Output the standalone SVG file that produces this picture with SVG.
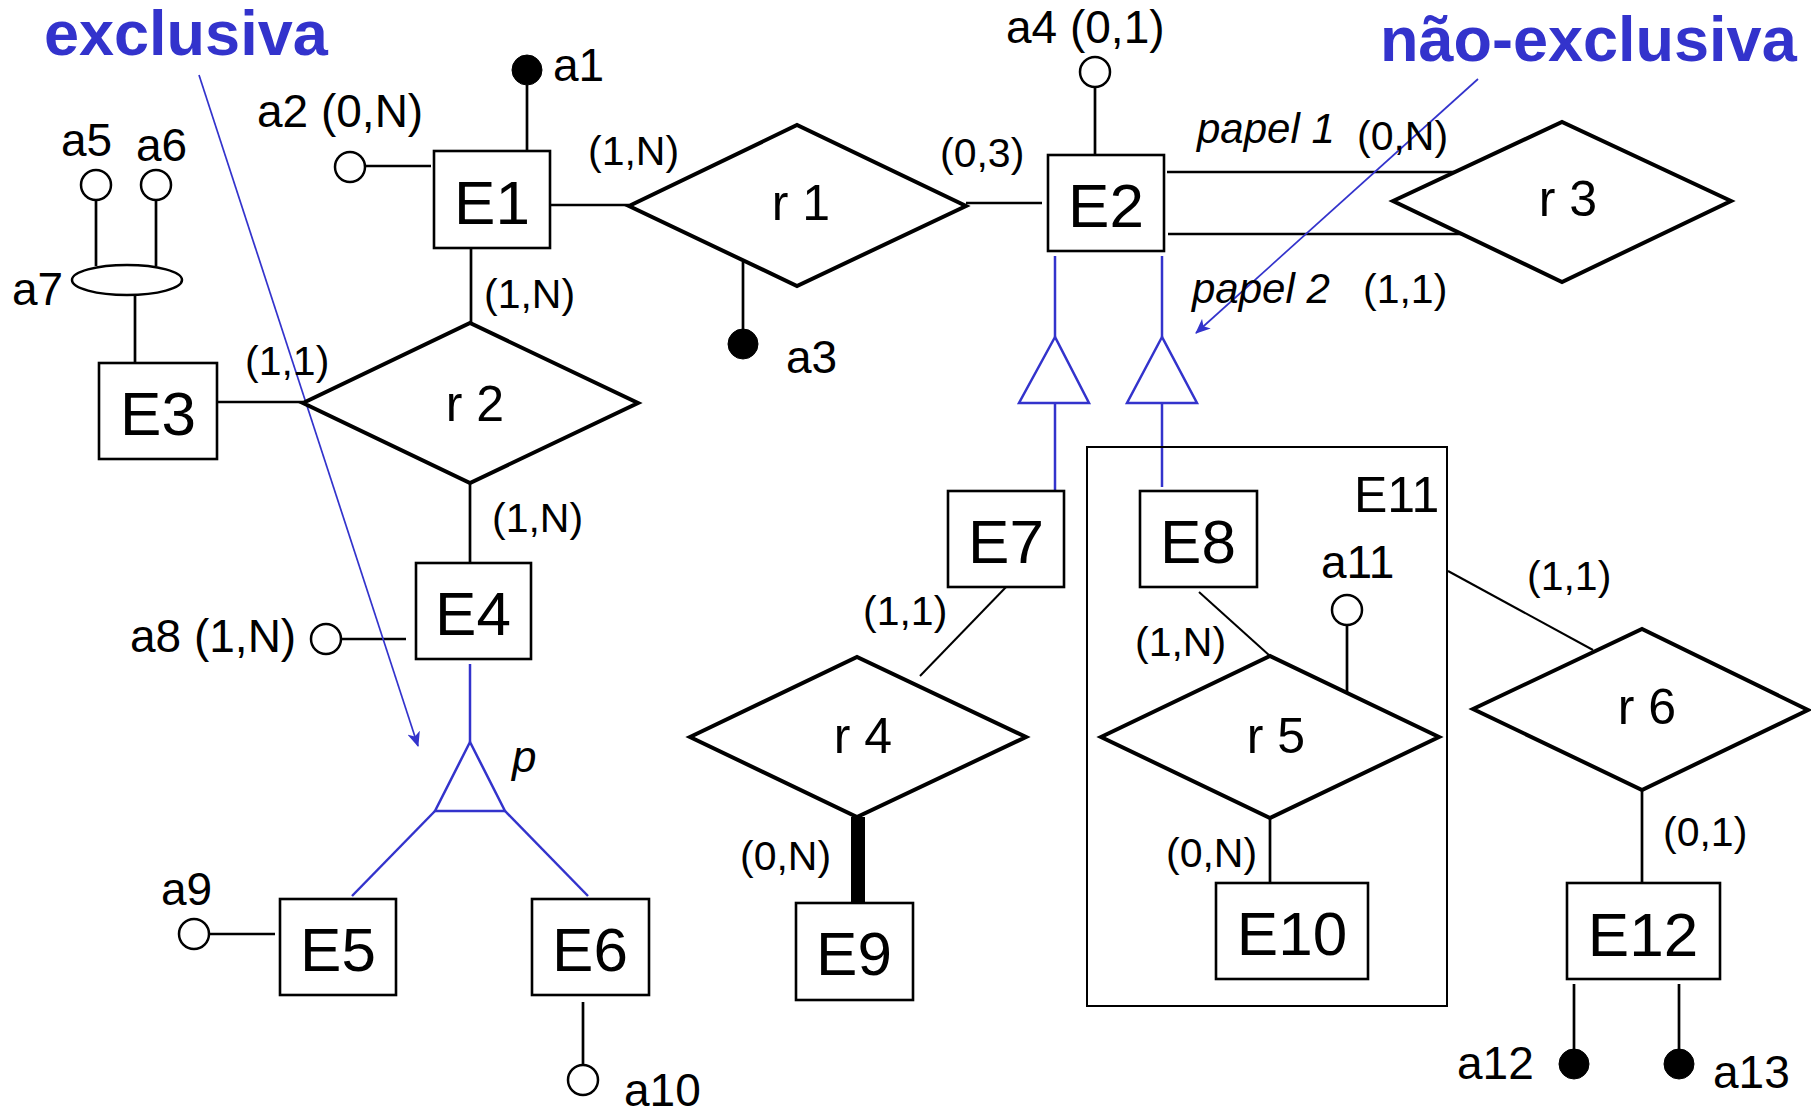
<svg xmlns="http://www.w3.org/2000/svg" width="1811" height="1114" viewBox="0 0 1811 1114">
<defs>
<style>
text{font-family:"Liberation Sans",Arial,sans-serif;fill:#000}
.ent rect{fill:#fff;stroke:#000;stroke-width:2.6}
.ent text{font-size:62px;text-anchor:middle}
.rel polygon{fill:#fff;stroke:#000;stroke-width:4;stroke-linejoin:miter}
.rel text{font-size:50px;text-anchor:middle}
.ln{stroke:#000;stroke-width:2.7;fill:none}
.thin{stroke:#000;stroke-width:2;fill:none}
.blue{stroke:#3333cc;stroke-width:2.5;fill:none}
.barrow{stroke:#3333cc;stroke-width:1.7;fill:none}
.oc{fill:#fff;stroke:#000;stroke-width:2.5}
.fc{fill:#000;stroke:#000;stroke-width:1}
.attr{font-size:46px}
.card{font-size:41px}
.role{font-size:42px;font-style:italic}
.title{font-size:63px;font-weight:bold;fill:#3333cc}
</style>
<marker id="ah" viewBox="0 0 15 13" refX="14" refY="6.5" markerWidth="15" markerHeight="13" markerUnits="userSpaceOnUse" orient="auto">
<path d="M0,0 L15,6.5 L0,13 L4,6.5 z" fill="#3333cc"/>
</marker>
</defs>

<g id="titles">
<text class="title" x="44" y="55">exclusiva</text>
<text class="title" x="1380" y="61">não-exclusiva</text>
</g>

<g id="connectors">
<line class="ln" x1="550" y1="205" x2="629" y2="205"/>
<line class="ln" x1="966" y1="203" x2="1042" y2="203"/>
<line class="ln" x1="471" y1="248" x2="471" y2="323"/>
<line class="ln" x1="217" y1="402" x2="303" y2="402"/>
<line class="ln" x1="470" y1="483" x2="470" y2="563"/>
<line class="ln" x1="1167" y1="172" x2="1455" y2="172"/>
<line class="ln" x1="1168" y1="234" x2="1462" y2="234"/>
<line class="thin" x1="1008" y1="585" x2="920" y2="676"/>
<line x1="858" y1="817" x2="858" y2="903" stroke="#000" stroke-width="14"/>
<line class="thin" x1="1199" y1="592" x2="1270" y2="656"/>
<line class="ln" x1="1270" y1="818" x2="1270" y2="883"/>
<line class="thin" x1="1448" y1="571" x2="1593" y2="650"/>
<line class="ln" x1="1642" y1="790" x2="1642" y2="883"/>
<line class="ln" x1="527" y1="85" x2="527" y2="151"/>
<line class="ln" x1="365" y1="166" x2="431" y2="166"/>
<line class="ln" x1="743" y1="262" x2="743" y2="330"/>
<line class="ln" x1="1095" y1="87" x2="1095" y2="155"/>
<line class="ln" x1="96" y1="200" x2="96" y2="266"/>
<line class="ln" x1="156" y1="200" x2="156" y2="266"/>
<line class="ln" x1="135" y1="295" x2="135" y2="363"/>
<line class="ln" x1="341" y1="639" x2="406" y2="639"/>
<line class="ln" x1="209" y1="934" x2="275" y2="934"/>
<line class="ln" x1="583" y1="1002" x2="583" y2="1065"/>
<line class="ln" x1="1347" y1="625" x2="1347" y2="693"/>
<line class="ln" x1="1574" y1="984" x2="1574" y2="1050"/>
<line class="ln" x1="1679" y1="984" x2="1679" y2="1050"/>
<line class="blue" x1="1055" y1="256" x2="1055" y2="337"/>
<polygon class="blue" points="1055,337 1019,403 1089,403"/>
<line class="blue" x1="1055" y1="403" x2="1055" y2="491"/>
<line class="blue" x1="1162" y1="256" x2="1162" y2="337"/>
<polygon class="blue" points="1162,337 1127,403 1197,403"/>
<line class="blue" x1="1162" y1="403" x2="1162" y2="487"/>
<line class="blue" x1="470" y1="664" x2="470" y2="742"/>
<polygon class="blue" points="470,742 435,811 505,811"/>
<line class="blue" x1="435" y1="811" x2="352" y2="896"/>
<line class="blue" x1="505" y1="811" x2="588" y2="896"/>
<line class="barrow" x1="199" y1="75" x2="418" y2="746" marker-end="url(#ah)"/>
<line class="barrow" x1="1478" y1="79" x2="1196" y2="333" marker-end="url(#ah)"/>
</g>

<g id="attributes">
<circle class="fc" cx="527" cy="70" r="15"/>
<text class="attr" x="553" y="81">a1</text>
<circle class="oc" cx="350" cy="167" r="15"/>
<text class="attr" x="257" y="127">a2 (0,N)</text>
<circle class="fc" cx="743" cy="344" r="15"/>
<text class="attr" x="786" y="373">a3</text>
<circle class="oc" cx="1095" cy="72" r="15"/>
<text class="attr" x="1006" y="43">a4 (0,1)</text>
<circle class="oc" cx="96" cy="185" r="15"/>
<circle class="oc" cx="156" cy="185" r="15"/>
<text class="attr" x="61" y="156">a5</text>
<text class="attr" x="136" y="161">a6</text>
<ellipse class="oc" cx="127" cy="280" rx="55" ry="15"/>
<text class="attr" x="12" y="305">a7</text>
<circle class="oc" cx="326" cy="639" r="15"/>
<text class="attr" x="130" y="652">a8 (1,N)</text>
<circle class="oc" cx="194" cy="934" r="15"/>
<text class="attr" x="161" y="905">a9</text>
<circle class="oc" cx="583" cy="1080" r="15"/>
<text class="attr" x="624" y="1106">a10</text>
<circle class="oc" cx="1347" cy="610" r="15"/>
<text class="attr" x="1321" y="578">a11</text>
<circle class="fc" cx="1574" cy="1064" r="15"/>
<text class="attr" x="1457" y="1079">a12</text>
<circle class="fc" cx="1679" cy="1064" r="15"/>
<text class="attr" x="1713" y="1088">a13</text>
</g>

<g id="labels">
<text class="card" x="588" y="165">(1,N)</text>
<text class="card" x="484" y="308">(1,N)</text>
<text class="card" x="245" y="375">(1,1)</text>
<text class="card" x="940" y="167">(0,3)</text>
<text class="role" x="1197" y="143">papel 1</text>
<text class="card" x="1357" y="150">(0,N)</text>
<text class="role" x="1192" y="303">papel 2</text>
<text class="card" x="1363" y="303">(1,1)</text>
<text class="card" x="492" y="532">(1,N)</text>
<text class="role" x="512" y="772" style="font-size:44px">p</text>
<text class="card" x="863" y="625">(1,1)</text>
<text class="card" x="740" y="870">(0,N)</text>
<text class="card" x="1135" y="656">(1,N)</text>
<text class="card" x="1166" y="867">(0,N)</text>
<text class="card" x="1527" y="590">(1,1)</text>
<text class="card" x="1663" y="846">(0,1)</text>
</g>

<g id="E11">
<rect x="1087" y="447" width="360" height="559" fill="none" stroke="#000" stroke-width="2"/>
<text x="1354" y="512" style="font-size:50px">E11</text>
</g>

<g id="E1" class="ent"><rect x="434" y="151" width="116" height="97"/><text x="492" y="224">E1</text></g>
<g id="E2" class="ent"><rect x="1048" y="155" width="116" height="96"/><text x="1106" y="227">E2</text></g>
<g id="E3" class="ent"><rect x="99" y="363" width="118" height="96"/><text x="158" y="435">E3</text></g>
<g id="E4" class="ent"><rect x="416" y="563" width="115" height="96"/><text x="473" y="635">E4</text></g>
<g id="E5" class="ent"><rect x="280" y="899" width="116" height="96"/><text x="338" y="971">E5</text></g>
<g id="E6" class="ent"><rect x="532" y="899" width="117" height="96"/><text x="590" y="971">E6</text></g>
<g id="E7" class="ent"><rect x="948" y="491" width="116" height="96"/><text x="1006" y="563">E7</text></g>
<g id="E8" class="ent"><rect x="1140" y="491" width="117" height="96"/><text x="1198" y="563">E8</text></g>
<g id="E9" class="ent"><rect x="796" y="903" width="117" height="97"/><text x="854" y="975">E9</text></g>
<g id="E10" class="ent"><rect x="1216" y="883" width="152" height="96"/><text x="1292" y="955">E10</text></g>
<g id="E12" class="ent"><rect x="1567" y="883" width="153" height="96"/><text x="1643" y="956">E12</text></g>

<g id="r1" class="rel"><polygon points="629,206 797,125 966,206 797,286"/><text x="801" y="220">r 1</text></g>
<g id="r2" class="rel"><polygon points="303,403 470,323 638,403 470,483"/><text x="475" y="421">r 2</text></g>
<g id="r3" class="rel"><polygon points="1393,201 1562,122 1731,201 1562,282"/><text x="1568" y="216">r 3</text></g>
<g id="r4" class="rel"><polygon points="690,737 857,657 1026,737 857,817"/><text x="863" y="753">r 4</text></g>
<g id="r5" class="rel"><polygon points="1101,737 1270,656 1439,737 1270,818"/><text x="1276" y="753">r 5</text></g>
<g id="r6" class="rel"><polygon points="1473,709 1642,629 1808,710 1642,790"/><text x="1647" y="724">r 6</text></g>
</svg>
